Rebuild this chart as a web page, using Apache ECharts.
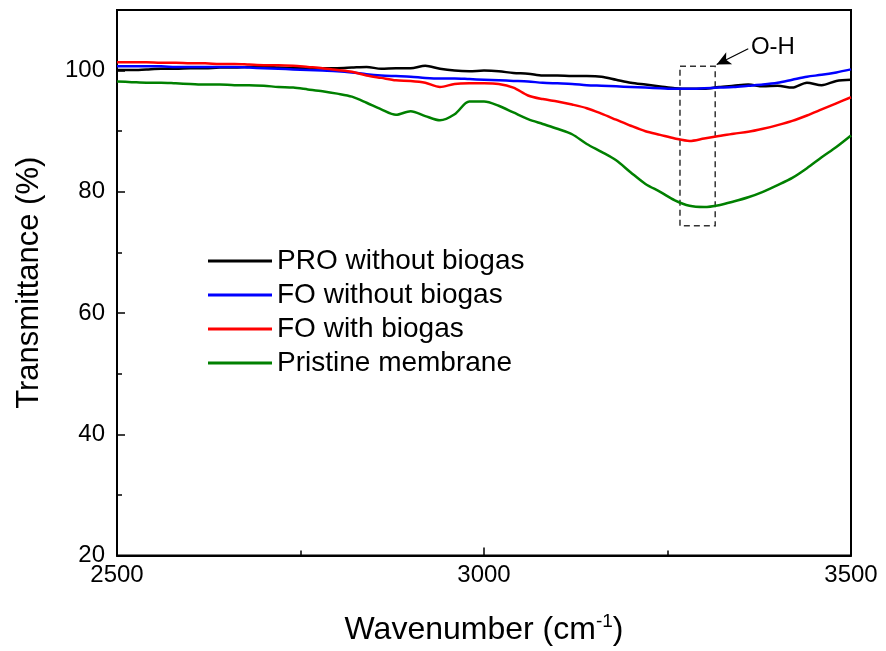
<!DOCTYPE html>
<html>
<head>
<meta charset="utf-8">
<title>FTIR transmittance</title>
<script src="https://cdn.jsdelivr.net/npm/echarts@6/dist/echarts.min.js"></script>
<style>
  html, body { margin: 0; padding: 0; background: #fff; }
  #chart { width: 886px; height: 651px; }
</style>
</head>
<body>
<div id="chart"></div>
<script>
// wavenumber grid (cm-1), step 20
const wavenumbers = [];
for (let w = 2500; w <= 3500; w += 20) wavenumbers.push(w);

const seriesNames = ["PRO without biogas", "FO without biogas", "FO with biogas", "Pristine membrane"];
const seriesColors = ["#000000", "#0000ff", "#ff0000", "#008000"];

const proWithout = [
  100.1, 100.1, 100.2, 100.3, 100.3, 100.4, 100.4, 100.5, 100.5, 100.6,
  100.6, 100.5, 100.4, 100.4, 100.4, 100.4, 100.5, 100.6, 100.3, 100.4,
  100.4, 100.8, 100.3, 100.0, 99.9, 100.0, 99.9, 99.6, 99.5, 99.2,
  99.2, 99.1, 99.1, 99.0, 98.5, 98.0, 97.7, 97.4, 97.1, 97.0,
  97.0, 97.3, 97.5, 97.7, 97.4, 97.5, 97.2, 98.0, 97.6, 98.3, 98.5
];
const foWithout = [
  100.7, 100.7, 100.7, 100.7, 100.6, 100.6, 100.6, 100.6, 100.6, 100.5,
  100.4, 100.3, 100.2, 100.1, 100.0, 99.9, 99.7, 99.4, 99.2, 99.1,
  99.0, 98.8, 98.7, 98.7, 98.6, 98.5, 98.4, 98.3, 98.2, 98.0,
  97.9, 97.8, 97.6, 97.5, 97.4, 97.3, 97.2, 97.1, 97.0, 97.0,
  97.1, 97.2, 97.3, 97.5, 97.7, 98.0, 98.5, 99.0, 99.3, 99.7, 100.2
];
const foWith = [
  101.4, 101.4, 101.4, 101.3, 101.3, 101.2, 101.2, 101.1, 101.1, 101.0,
  100.9, 100.9, 100.8, 100.6, 100.4, 100.1, 99.8, 99.2, 98.8, 98.4,
  98.3, 98.0, 97.3, 97.8, 97.9, 97.9, 97.8, 97.2, 95.9, 95.3,
  94.9, 94.4, 93.8, 92.9, 91.9, 90.9, 90.0, 89.4, 88.8, 88.4,
  88.8, 89.2, 89.6, 89.9, 90.4, 91.0, 91.7, 92.6, 93.6, 94.6, 95.6
];
const pristine = [
  98.2, 98.1, 98.0, 98.0, 97.9, 97.8, 97.7, 97.7, 97.6, 97.6,
  97.5, 97.3, 97.2, 96.9, 96.6, 96.2, 95.7, 94.7, 93.6, 92.7,
  93.3, 92.5, 91.8, 92.8, 94.9, 94.9, 94.2, 93.1, 92.0, 91.2,
  90.4, 89.5, 87.9, 86.6, 85.2, 83.2, 81.3, 80.0, 78.6, 77.7,
  77.5, 77.8, 78.4, 79.1, 80.0, 81.1, 82.3, 83.9, 85.7, 87.4, 89.3
];

// O-H annotation: dashed box [x0, x1] x [y0, y1] and arrow from label to box
const ohBox = [[3267, 100.7], [3315, 74.4]];
const ohArrow = [[3360, 103.6], [3317, 101.0]];

const allValues = [proWithout, foWithout, foWith, pristine];

const chart = echarts.init(document.getElementById("chart"));

const series = allValues.map((vals, i) => ({
  name: seriesNames[i],
  type: "line",
  symbol: "none",
  smooth: 0.3,
  data: vals.map((v, k) => [wavenumbers[k], v]),
  lineStyle: { color: seriesColors[i], width: 2.5 },
  itemStyle: { color: seriesColors[i] },
  z: 3
}));

// annotation rides on the first series
series[0].markArea = {
  silent: true,
  itemStyle: { color: "rgba(0,0,0,0)", borderColor: "#333", borderWidth: 1.5, borderType: [6, 4] },
  data: [[{ coord: ohBox[0] }, { coord: ohBox[1] }]]
};
series[0].markLine = {
  silent: true,
  symbol: ["none", "arrow"],
  symbolSize: [10, 14],
  lineStyle: { color: "#000", width: 1.2, type: "solid" },
  label: {
    show: true,
    position: "start",
    formatter: "O-H",
    fontFamily: "Liberation Sans, Arial, sans-serif",
    fontSize: 24,
    color: "#000",
    distance: 3
  },
  data: [[{ coord: ohArrow[0] }, { coord: ohArrow[1] }]]
};

chart.setOption({
  animation: false,
  backgroundColor: "#fff",
  textStyle: { fontFamily: "Liberation Sans, Arial, sans-serif" },
  grid: {
    left: 117,
    right: 35,
    top: 10,
    bottom: 92,
    show: true,
    borderColor: "#000",
    borderWidth: 2
  },
  legend: {
    orient: "vertical",
    left: 203,
    top: 242,
    icon: "rect",
    itemWidth: 64,
    itemHeight: 3,
    itemGap: 6,
    textStyle: { fontSize: 28, color: "#000", fontFamily: "Liberation Sans, Arial, sans-serif" },
    data: seriesNames
  },
  xAxis: {
    type: "value",
    min: 2500,
    max: 3500,
    interval: 500,
    name: "Wavenumber (cm{sup|-1})",
    nameLocation: "middle",
    nameGap: 57,
    nameTextStyle: {
      fontSize: 32,
      color: "#000",
      rich: { sup: { fontSize: 19, padding: [0, 0, 16, 0], color: "#000" } }
    },
    axisLine: { lineStyle: { color: "#000", width: 2 } },
    axisTick: { inside: true, length: 8, lineStyle: { width: 1.5, color: "#000" } },
    minorTick: { show: true, splitNumber: 2, length: 5, lineStyle: { width: 1.5, color: "#000" } },
    axisLabel: { fontSize: 24, color: "#000", margin: 8, formatter: (v) => String(v) },
    splitLine: { show: false }
  },
  yAxis: {
    type: "value",
    min: 20,
    max: 110,
    interval: 20,
    name: "Transmittance (%)",
    nameLocation: "middle",
    nameGap: 72,
    nameTextStyle: { fontSize: 31, color: "#000" },
    axisLine: { show: true, lineStyle: { color: "#000", width: 2 } },
    axisTick: { inside: true, length: 8, lineStyle: { width: 1.5, color: "#000" } },
    minorTick: { show: true, splitNumber: 2, length: 5, lineStyle: { width: 1.5, color: "#000" } },
    axisLabel: { fontSize: 24, color: "#000", margin: 12, showMaxLabel: false },
    splitLine: { show: false }
  },
  series: series
});
</script>
</body>
</html>
